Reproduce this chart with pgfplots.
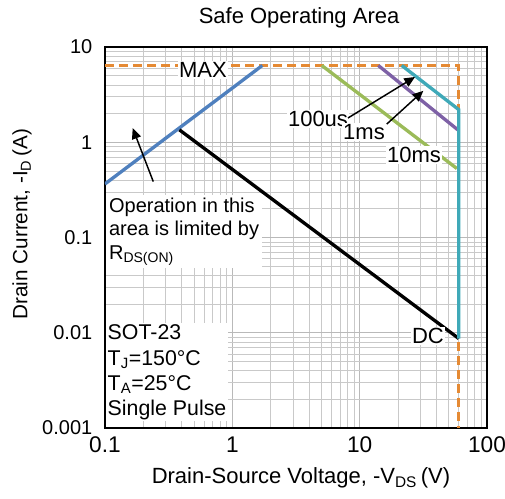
\documentclass[border=0pt]{standalone}
\usepackage{pgfplots}
\pgfplotsset{compat=1.18}
\usepackage{fontspec}
\setmainfont{Liberation Sans}
\usetikzlibrary{arrows.meta}
\definecolor{soablue}{HTML}{4F80BE}
\definecolor{soaorange}{HTML}{E58A34}
\definecolor{soagreen}{HTML}{9BBB59}
\definecolor{soapurple}{HTML}{7E61A6}
\definecolor{soateal}{HTML}{3FA9B8}

\newcommand{\fs}[1]{\fontsize{#1}{#1}\selectfont}

\begin{document}
\begin{tikzpicture}
\begin{axis}[
  scale only axis,
  width=286.5pt, height=285.75pt,
  xmode=log, ymode=log,
  xmin=0.1, xmax=100, ymin=0.001, ymax=10,
  xtick={0.1,1,10,100}, xticklabels={0.1,1,10,100},
  ytick={0.001,0.01,0.1,1,10}, yticklabels={0.001,0.01,0.1,1,10},
  major tick length=0pt, minor tick length=0pt,
  grid=both,
  major grid style={gray!55, line width=0.6pt},
  minor grid style={gray!42, line width=0.5pt},
  axis line style={black, line width=1.3pt},
  xticklabel style={font=\fs{17}, yshift=-3pt},
  yticklabel style={font=\fs{15}, xshift=-6pt},
  clip mode=individual,
]
% MAX current / max voltage limit
\addplot[soaorange, line width=2.5pt, dash pattern=on 7pt off 3.5pt]
  coordinates {(0.1,6.4) (60,6.4) (60,0.001)};
% RDS(on) limit
\addplot[soablue, line width=2.5pt] coordinates {(0.1,0.365) (1.72,6.4)};
% DC
\addplot[black, line width=2.5pt] coordinates {(0.384,1.35) (60,0.0087)};
% 10 ms
\addplot[soagreen, line width=2.5pt] coordinates {(5.04,6.4) (58,0.53)};
% 1 ms
\addplot[soapurple, line width=2.5pt] coordinates {(14.0,6.4) (59,1.35)};
% 100 us
\addplot[soateal, line width=2.5pt] coordinates {(21.4,6.4) (60,2.2) (60,0.0087)};

% annotations
\node[fill=white, inner sep=1pt, font=\fs{16.5}] at (rel axis cs:0.2565,0.9396) {MAX};
\node[fill=white, inner sep=1pt, font=\fs{16.5}] at (rel axis cs:0.5576,0.811) {100us};
\node[fill=white, inner sep=1pt, font=\fs{16.5}] at (rel axis cs:0.678,0.7769) {1ms};
\node[fill=white, inner sep=1pt, font=\fs{16.5}] at (rel axis cs:0.809,0.7165) {10ms};
\node[fill=white, inner sep=1pt, font=\fs{16.5}] at (rel axis cs:0.8455,0.2415) {DC};
\draw[black, line width=1.1pt, -{Triangle[length=8pt, width=7pt]}]
  (rel axis cs:0.636,0.8136) -- (rel axis cs:0.8115,0.9213);
\draw[black, line width=1.1pt, -{Triangle[length=8pt, width=7pt]}]
  (rel axis cs:0.7375,0.7976) -- (rel axis cs:0.8333,0.885);
\draw[black, line width=1.1pt, -{Triangle[length=8pt, width=7pt]}]
  (rel axis cs:0.1264,0.6467) -- (rel axis cs:0.0725,0.787);
\node[fill=white, anchor=north west, align=left, inner sep=2pt,
      font=\fontsize{15}{17.6}\selectfont]
  at (rel axis cs:0.003,0.612)
  {Operation in this\\area is limited by\\R\textsubscript{DS(ON)}};
\node[fill=white, anchor=north west, align=left, inner sep=1pt,
      font=\fontsize{16}{19}\selectfont]
  at (rel axis cs:0.003,0.275)
  {SOT-23\\T\textsubscript{J}=150°C\\T\textsubscript{A}=25°C\\Single Pulse};

% title and axis labels
\node[font=\fs{16.5}] at (rel axis cs:0.508,1.076) {Safe Operating Area};
\node[font=\fs{16.5}] at (rel axis cs:0.513,-0.131)
  {Drain-Source Voltage, -V\textsubscript{DS}\,(V)};
\node[font=\fs{15.5}, rotate=90] at (rel axis cs:-0.217,0.535)
  {Drain Current, -I\textsubscript{D}\,(A)};
\end{axis}
\pgfresetboundingbox
\path[use as bounding box] ([shift={(-78.75pt,-52.5pt)}]current axis.south west)
  rectangle ([shift={(13.5pt,35.25pt)}]current axis.north east);
\end{tikzpicture}
\end{document}
